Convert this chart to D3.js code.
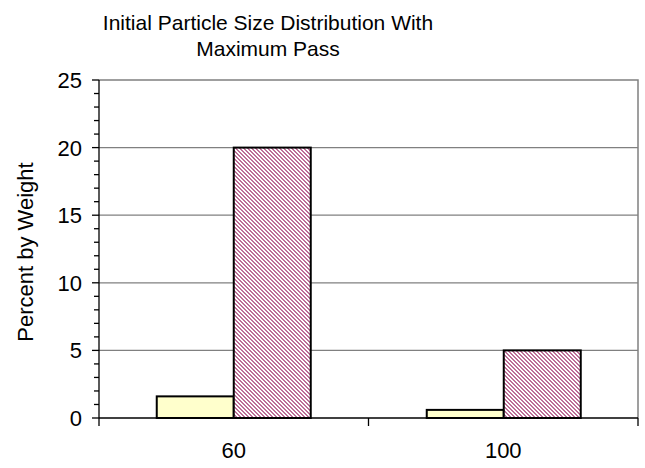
<!DOCTYPE html>
<html lang="en">
<head>
    <meta charset="UTF-8">
    <title>Initial Particle Size Distribution With Maximum Pass</title>
    <style>
        body { margin: 0; background: #fff; }
        text { font-family: "Liberation Sans", Arial, sans-serif; fill: #000; }
    </style>
</head>
<body>
    <div id="chart"></div>
    <script src="https://d3js.org/d3.v7.min.js"></script>
    <script>
        const categories = ["60", "100"];
        const seriesNames = ["Initial", "Maximum Pass"];
        const initialValues = [1.6, 0.6];
        const maxPassValues = [20, 5];
        const yTicks = [0, 5, 10, 15, 20, 25];

        const width = 645, height = 468;
        const margin = { top: 80, right: 7, bottom: 50, left: 99 };
        const plotW = 638 - margin.left, plotH = 418 - margin.top;

        const svg = d3.select("#chart").append("svg")
            .attr("width", width)
            .attr("height", height);

        // pixel diagonal hatch (top-left to bottom-right)
        const defs = svg.append("defs");
        const pat = defs.append("pattern")
            .attr("id", "hatch")
            .attr("patternUnits", "userSpaceOnUse")
            .attr("width", 4)
            .attr("height", 4);
        pat.append("rect").attr("width", 4).attr("height", 4).attr("fill", "#fff");
        d3.range(4).forEach(i => {
            [i, (i + 1) % 4].forEach(c => {
                pat.append("rect")
                    .attr("x", c).attr("y", i)
                    .attr("width", 1).attr("height", 1)
                    .attr("fill", "#BD6F98")
                    .attr("shape-rendering", "crispEdges");
            });
        });

        const g = svg.append("g")
            .attr("transform", `translate(${margin.left},${margin.top})`);

        const x = d3.scaleBand().domain(categories).range([0, plotW]);
        const x1 = d3.scaleBand().domain(seriesNames).range([0, x.bandwidth()]).paddingOuter(0.75).paddingInner(0);
        const y = d3.scaleLinear().domain([0, 25]).range([plotH, 0]);

        // grid
        g.selectAll(".grid")
            .data(yTicks.filter(d => d > 0 && d < 25))
            .enter().append("line")
            .attr("x1", 0).attr("x2", plotW)
            .attr("y1", d => y(d)).attr("y2", d => y(d))
            .attr("stroke", "#808080").attr("stroke-width", 1.3);

        // plot border (top + right)
        g.append("path")
            .attr("d", `M0,0 H${plotW} V${plotH}`)
            .attr("fill", "none")
            .attr("stroke", "#808080")
            .attr("stroke-width", 1.5);

        // bars
        const data = categories.map((c, i) => ({ cat: c, vals: [initialValues[i], maxPassValues[i]] }));
        const grp = g.selectAll(".grp").data(data).enter().append("g")
            .attr("transform", d => `translate(${Math.round(x(d.cat))},0)`);
        grp.selectAll("rect")
            .data(d => d.vals.map((v, j) => ({ s: seriesNames[j], v: v, j: j })))
            .enter().append("rect")
            .attr("x", d => x1(d.s))
            .attr("width", x1.bandwidth())
            .attr("y", d => y(d.v))
            .attr("height", d => y(0) - y(d.v))
            .attr("fill", d => d.j === 0 ? "#FFFFCC" : "url(#hatch)")
            .attr("stroke", "#000")
            .attr("stroke-width", 2);

        // y axis
        const yAxis = g.append("g");
        yAxis.append("line").attr("x1", 0).attr("x2", 0).attr("y1", 0).attr("y2", plotH)
            .attr("stroke", "#000").attr("stroke-width", 1.3);
        yAxis.selectAll(".minor")
            .data(d3.range(0, 26))
            .enter().append("line")
            .attr("x1", d => d % 5 === 0 ? -7 : -5).attr("x2", 0)
            .attr("y1", d => y(d)).attr("y2", d => y(d))
            .attr("stroke", "#000").attr("stroke-width", 1.3);
        yAxis.selectAll(".lbl")
            .data(yTicks)
            .enter().append("text")
            .attr("x", -17)
            .attr("y", d => y(d))
            .attr("dy", "0.36em")
            .attr("text-anchor", "end")
            .style("font-size", "22px")
            .text(d => d);

        // x axis
        const xAxis = g.append("g").attr("transform", `translate(0,${plotH})`);
        xAxis.append("line").attr("x1", 0).attr("x2", plotW)
            .attr("stroke", "#000").attr("stroke-width", 1.3);
        xAxis.selectAll(".xt")
            .data([0, plotW / 2, plotW])
            .enter().append("line")
            .attr("x1", d => d).attr("x2", d => d)
            .attr("y1", 0).attr("y2", 8)
            .attr("stroke", "#000").attr("stroke-width", 1.3);
        xAxis.selectAll(".xl")
            .data(categories)
            .enter().append("text")
            .attr("x", d => x(d) + x.bandwidth() / 2)
            .attr("y", 40)
            .attr("text-anchor", "middle")
            .style("font-size", "22px")
            .text(d => d);

        // y label
        svg.append("text")
            .attr("transform", "translate(33,252) rotate(-90)")
            .attr("text-anchor", "middle")
            .style("font-size", "22px")
            .text("Percent by Weight");

        // title
        const title = svg.append("text")
            .attr("x", 268)
            .attr("text-anchor", "middle")
            .style("font-size", "21px");
        title.append("tspan").attr("x", 268).attr("y", 30).text("Initial Particle Size Distribution With");
        title.append("tspan").attr("x", 268).attr("y", 56).text("Maximum Pass");
    </script>
</body>
</html>
